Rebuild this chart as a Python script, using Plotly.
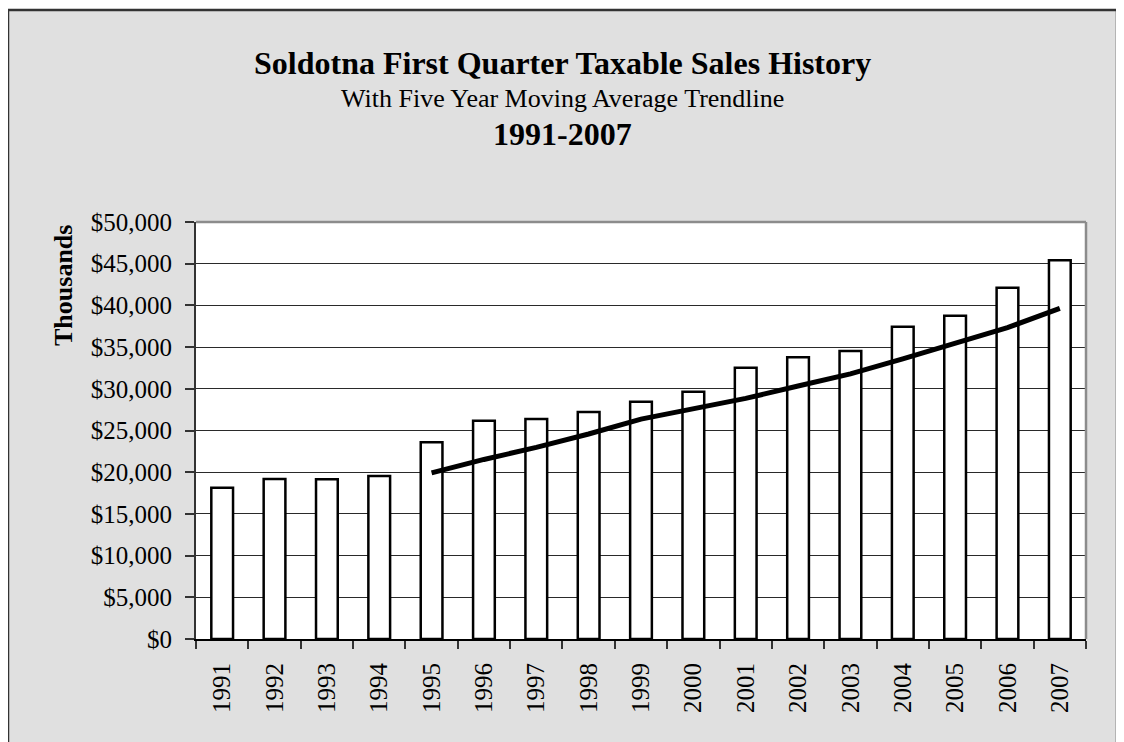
import plotly.graph_objects as go

years = [str(y) for y in range(1991, 2008)]
sales = [18150, 19180, 19150, 19540, 23590, 26170, 26380, 27220, 28450,
         29650, 32530, 33780, 34530, 37450, 38760, 42120, 45410]
trend_years = [str(y) for y in range(1995, 2008)]
trend_vals = [19920, 21530, 22970, 24580, 26360, 27580, 28850, 30330,
              31790, 33590, 35410, 37330, 39650]
y_ticks = list(range(0, 50001, 5000))

# page body has an 8px margin, so work in page coords minus 8
OFF = 8
W, H = 1124 - OFF, 742 - OFF
L, R, T, B = 196 - OFF, 1086 - OFF, 222 - OFF, 639 - OFF


def px(x):
    return (x - OFF - L) / (R - L)


def py(y):
    return (B - (y - OFF)) / (B - T)


SERIF = "Liberation Serif, Times New Roman, serif"

fig = go.Figure()
fig.add_trace(go.Bar(
    x=years, y=sales,
    marker=dict(color="white", line=dict(color="black", width=2.5)),
    showlegend=False,
))
fig.add_trace(go.Scatter(
    x=trend_years, y=trend_vals, mode="lines",
    line=dict(color="black", width=5),
    showlegend=False,
))

fig.update_layout(
    width=W, height=H,
    margin=dict(l=L, r=W - R, t=T, b=H - B, pad=0),
    paper_bgcolor="white",
    plot_bgcolor="white",
    bargap=0.585,
    font=dict(family=SERIF, color="black"),
    xaxis=dict(
        type="category",
        tickangle=-90,
        tickfont=dict(size=25, family=SERIF, color="black"),
        ticks="outside", ticklen=8, tickwidth=1.5, tickcolor="#333",
        tickson="boundaries",
        showline=True, linecolor="black", linewidth=2,
        showgrid=False,
        ticklabelstandoff=12,
    ),
    yaxis=dict(
        range=[0, 50000],
        tickvals=y_ticks,
        tickformat="$,.0f",
        tickfont=dict(size=25, family=SERIF, color="black"),
        ticks="outside", ticklen=9, tickwidth=1.5, tickcolor="#333",
        showline=True, linecolor="#333", linewidth=2,
        showgrid=True, gridcolor="#2a2a2a", gridwidth=1,
        zeroline=False,
        ticklabelstandoff=8,
    ),
    shapes=[
        dict(type="rect", xref="paper", yref="paper",
             x0=px(8), x1=px(1117), y0=py(780), y1=py(10),
             fillcolor="#e0e0e0", line=dict(color="#333", width=2.5),
             layer="below"),
        dict(type="rect", xref="paper", yref="paper",
             x0=0, x1=1, y0=0, y1=1,
             fillcolor="white", line=dict(width=0), layer="below"),
        dict(type="line", xref="paper", yref="paper",
             x0=0, x1=1, y0=1, y1=1,
             line=dict(color="#8c8c8c", width=2.5), layer="above"),
        dict(type="line", xref="paper", yref="paper",
             x0=1, x1=1, y0=0, y1=1,
             line=dict(color="#8c8c8c", width=2.5), layer="above"),
    ],
    annotations=[
        dict(text="<b>Soldotna First Quarter Taxable Sales History</b>",
             xref="paper", yref="paper", x=px(562), y=py(63),
             xanchor="center", yanchor="middle", showarrow=False,
             font=dict(size=32, family=SERIF, color="black")),
        dict(text="With Five Year Moving Average Trendline",
             xref="paper", yref="paper", x=px(562), y=py(98),
             xanchor="center", yanchor="middle", showarrow=False,
             font=dict(size=26, family=SERIF, color="black")),
        dict(text="<b>1991-2007</b>",
             xref="paper", yref="paper", x=px(562), y=py(134),
             xanchor="center", yanchor="middle", showarrow=False,
             font=dict(size=32, family=SERIF, color="black")),
        dict(text="<b>Thousands</b>",
             xref="paper", yref="paper", x=px(63), y=py(286),
             xanchor="center", yanchor="middle", showarrow=False,
             textangle=-90,
             font=dict(size=26, family=SERIF, color="black")),
    ],
)

fig.write_html("out.html")
